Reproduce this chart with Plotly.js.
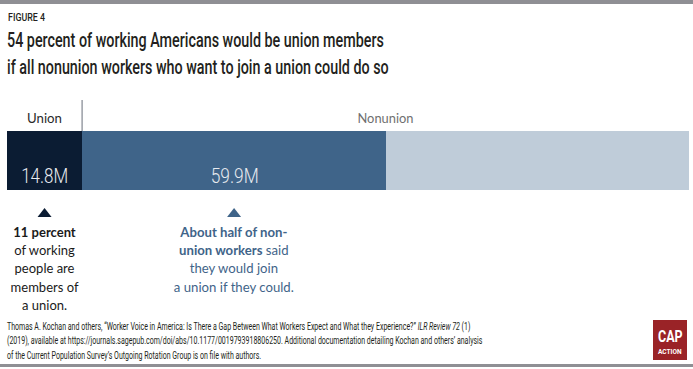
<!DOCTYPE html>
<html><head><meta charset="utf-8">
<script src="https://cdn.plot.ly/plotly-3.0.1.min.js"></script>
<style>html,body{margin:0;padding:0;background:#fff;}#chart{width:693px;height:369px;}</style>
</head><body><div id="chart"></div>
<script>
// Data (millions of workers)
const segments = ["Union", "Nonunion – would join", "Nonunion – other"];
const values = [14.8, 59.9, 59.7];
const groupLabels = ["Union", "Nonunion"];
const colors = ["#0b1c33", "#3f6489", "#bfccd9"];

const W = 693, H = 369;
const X0 = 7, X1 = 689;
const px = x => x / W;
const py = y => 1 - y / H;
const total = values.reduce((a, b) => a + b, 0);
const xpix = v => X0 + v / total * (X1 - X0);   // data value -> pixel (same as x axis)

const traces = values.map((v, i) => ({
  type: 'bar', orientation: 'h', x: [v], y: ['all'], name: segments[i],
  marker: {color: colors[i], line: {width: 0}}, hoverinfo: 'skip', width: 1
}));

const body = '"Roboto", "Open Sans", sans-serif';
const note = '"Lato", "Open Sans", sans-serif';

const ann = [];
const squeeze = {}; // annotation index -> target width px
function add(a, w) {
  a = Object.assign({xref:'paper', yref:'paper', showarrow:false, xanchor:'center', yanchor:'middle'}, a);
  ann.push(a); if (w) squeeze[ann.length - 1] = w;
}

add({x:px(6), y:py(17.5), xanchor:'left',
  text:'FIGURE 4', font:{family:body, size:11, weight:500, color:'#231f20'}}, 37);
add({x:px(5), y:py(53), xanchor:'left', align:'left',
  text:'54 percent of working Americans would be union members<br>if all nonunion workers who want to join a union could do so',
  font:{family:body, size:20.5, weight:500, color:'#231f20'}}, 382);
// group labels
const cUnion = xpix(values[0] / 2);
const cNon = xpix(values[0] + (values[1] + values[2]) / 2);
const cMid = xpix(values[0] + values[1] / 2);
add({x:px(cUnion), y:py(117), text:groupLabels[0],
  font:{family:note, size:14, color:'#2a2a2a'}}, 35);
add({x:px(cNon), y:py(117), text:groupLabels[1],
  font:{family:note, size:14, color:'#6f6f6f'}}, 56);
// value labels
add({x:px(cUnion), y:py(175.5), text:values[0].toFixed(1)+'M',
  font:{family:body, size:20, weight:300, color:'#e8ebf0'}}, 47);
add({x:px(cMid), y:py(175.5), text:values[1].toFixed(1)+'M',
  font:{family:body, size:20, weight:300, color:'#e8ebf0'}}, 48);
// notes
add({x:px(cUnion), y:py(221), yanchor:'top', align:'center',
  text:'<b>11 percent</b><br>of working<br>people are<br>members of<br>a union.',
  font:{family:note, size:14, color:'#1a1a1a'}}, 68);
add({x:px(cMid), y:py(221), yanchor:'top', align:'center',
  text:'<b>About half of non-</b><br><b>union workers</b> said<br>they would join<br>a union if they could.',
  font:{family:note, size:14, color:'#3f6489'}}, 120);
// source
add({x:px(5), y:py(341), xanchor:'left', align:'left',
  text:'Thomas A. Kochan and others, “Worker Voice in America: Is There a Gap Between What Workers Expect and What they Experience?” <i>ILR Review 72</i> (1)<br>(2019), available at https://journals.sagepub.com/doi/abs/10.1177/0019793918806250. Additional documentation detailing Kochan and others’ analysis<br>of the Current Population Survey’s Outgoing Rotation Group is on file with authors.',
  font:{family:body, size:11, color:'#231f20'}}, 476);
// logo
add({x:px(670), y:py(336.5), text:'<b>CAP</b>',
  font:{family:body, size:16.5, weight:700, color:'#ffffff'}}, 25);
add({x:px(670), y:py(351.5), text:'<b>ACTION</b>',
  font:{family:body, size:6.5, color:'#ffffff'}}, 24);

function tri(cx, cy, w, h) {
  return `M${px(cx - w/2)},${py(cy + h/2)} L${px(cx + w/2)},${py(cy + h/2)} L${px(cx)},${py(cy - h/2)} Z`;
}
const shapes = [
  {type:'rect', xref:'paper', yref:'paper', x0:0, x1:1, y0:py(4), y1:1, fillcolor:'#8f8f94', line:{width:0}},
  {type:'rect', xref:'paper', yref:'paper', x0:0, x1:1, y0:py(367), y1:py(364), fillcolor:'#8f8f94', line:{width:0}},
  {type:'line', xref:'paper', yref:'paper', x0:px(xpix(values[0])), x1:px(xpix(values[0])), y0:py(100), y1:py(131), line:{color:'#8a8f98', width:1.3}},
  {type:'rect', xref:'paper', yref:'paper', x0:px(653), x1:px(687), y0:py(360), y1:py(320), fillcolor:'#9a2327', line:{width:0}},
  {type:'path', xref:'paper', yref:'paper', path:tri(cUnion, 212.5, 14, 9), fillcolor:'#0b1c33', line:{width:0}},
  {type:'path', xref:'paper', yref:'paper', path:tri(cMid, 212.5, 14, 9), fillcolor:'#3f6489', line:{width:0}}
];

const layout = {
  width: W, height: H, margin:{l:0, r:0, t:0, b:0}, paper_bgcolor:'#fff', plot_bgcolor:'#fff',
  barmode:'stack', bargap:0, showlegend:false,
  xaxis:{domain:[px(X0), px(X1)], range:[0, total], visible:false, fixedrange:true},
  yaxis:{domain:[py(190), py(131)], range:[-0.5, 0.5], visible:false, fixedrange:true},
  annotations: ann, shapes: shapes
};
Plotly.newPlot('chart', traces, layout, {staticPlot:true, displayModeBar:false}).then(gd => {
  // horizontally condense texts to mimic the condensed typeface of the original
  gd.querySelectorAll('g.annotation').forEach(g => {
    const i = +g.getAttribute('data-index');
    if (!(i in squeeze)) return;
    const t = g.querySelector('text.annotation-text');
    if (!t) return;
    const bb = t.getBBox();
    const s = Math.min(1.2, squeeze[i] / bb.width);
    const L = ann[i].xanchor === 'left' ? bb.x : bb.x + bb.width / 2;
    const prev = t.getAttribute('transform') || '';
    t.setAttribute('transform', `${prev} translate(${L},0) scale(${s},1) translate(${-L},0)`.trim());
  });
});
</script></body></html>
